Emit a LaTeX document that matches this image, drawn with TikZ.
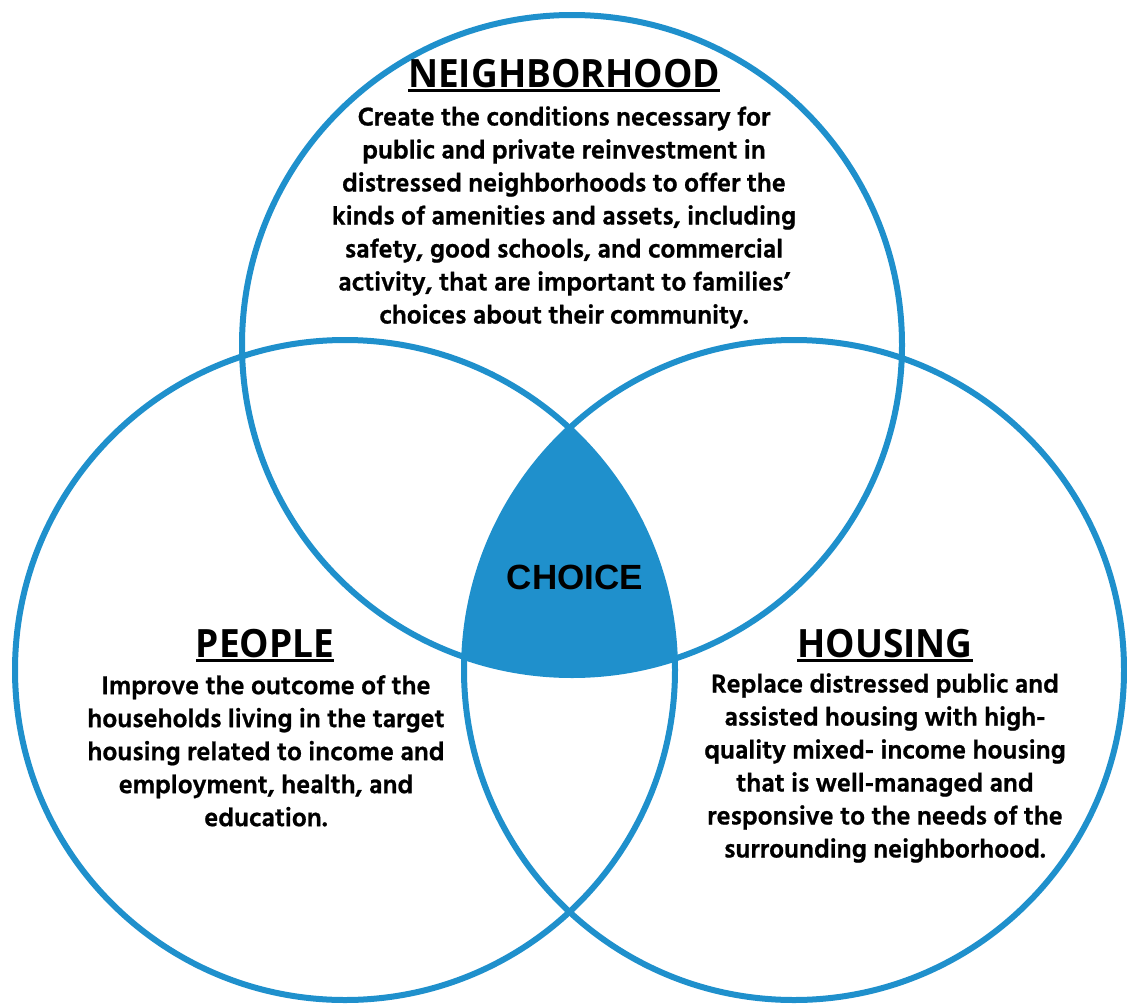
\documentclass[tikz,border=0pt]{standalone}
\usepackage{fontspec}
\setmainfont{Hind Siliguri}[BoldFeatures={FakeBold=0.8}]
\newfontfamily\headfont{Open Sans}[FakeStretch=0.95]
\newfontfamily\choicefont{Liberation Sans}
\definecolor{choiceblue}{RGB}{31,144,204}
\newcommand{\ulhead}[1]{\setbox0=\hbox{#1}\rlap{\rule[-4.5pt]{\wd0}{2.3pt}}\box0}

\begin{document}
\begin{tikzpicture}[x=1pt,y=-1pt,
	ring/.style={draw=choiceblue,line width=6pt},
	heading/.style={inner sep=0pt,anchor=base,font=\headfont\bfseries\fontsize{39}{39}\selectfont},
	blurb/.style={inner sep=0pt,anchor=north,align=center,font=\bfseries\fontsize{26.5}{33}\selectfont}]
	\useasboundingbox (0,0) rectangle (1127,1004);
	\coordinate (n) at (572,345);
	\coordinate (p) at (345,670);
	\coordinate (h) at (794,670);
	% shared middle
	\begin{scope}
	\clip (n) circle (330);
	\clip (p) circle (330);
	\fill[choiceblue] (h) circle (330);
	\end{scope}
	\draw[ring] (n) circle (330);
	\draw[ring] (p) circle (330);
	\draw[ring] (h) circle (330);
	\node[inner sep=0pt,anchor=base,font=\choicefont\bfseries\fontsize{35}{35}\selectfont] (choice) at (575,589) {CHOICE};
	
	\node[heading] (ntitle) at (564,87) {\ulhead{NEIGHBORHOOD}};
	\node[blurb] (ntext) at (564,106) {Create the conditions necessary for\\public and private reinvestment in\\distressed neighborhoods to offer the\\kinds of amenities and assets, including\\safety, good schools, and commercial\\activity, that are important to families’\\choices about their community.};
	
	\node[heading] (ptitle) at (265,657) {\ulhead{PEOPLE}};
	\node[blurb] (ptext) at (266,675) {Improve the outcome of the\\households living in the target\\housing related to income and\\employment, health, and\\education.};
	
	\node[heading] (htitle) at (885,657) {\ulhead{HOUSING}};
	\node[blurb] (htext) at (885,673) {Replace distressed public and\\assisted housing with high-\\quality mixed- income housing\\that is well-managed and\\responsive to the needs of the\\surrounding neighborhood.};
\end{tikzpicture}
\end{document}
